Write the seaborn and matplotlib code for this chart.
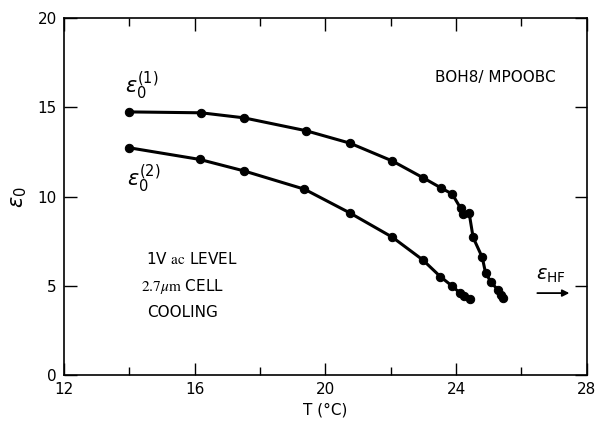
import matplotlib

matplotlib.use("Agg")
import matplotlib.pyplot as plt
import pandas as pd
import seaborn as sns
from matplotlib.ticker import MultipleLocator

# eps0(1) branch
temp_1 = [14.0, 16.2, 17.5, 19.4, 20.75, 22.05, 23.0, 23.53, 23.88, 24.14,
          24.22, 24.4, 24.52, 24.8, 24.9, 25.07, 25.28, 25.36, 25.42]
eps_1 = [14.75, 14.7, 14.42, 13.7, 13.0, 12.0, 11.05, 10.5, 10.15, 9.35,
         9.03, 9.07, 7.72, 6.6, 5.74, 5.2, 4.78, 4.5, 4.35]

# eps0(2) branch
temp_2 = [14.0, 16.15, 17.5, 19.36, 20.74, 22.05, 22.98, 23.52, 23.86, 24.11,
          24.24, 24.42]
eps_2 = [12.74, 12.09, 11.45, 10.42, 9.1, 7.73, 6.46, 5.52, 5.02, 4.62,
         4.45, 4.27]

df = pd.concat(
    [
        pd.DataFrame({"T": temp_1, "eps": eps_1, "branch": "1"}),
        pd.DataFrame({"T": temp_2, "eps": eps_2, "branch": "2"}),
    ],
    ignore_index=True,
)

sns.set_theme(style="ticks")
plt.rcParams["font.family"] = ["DejaVu Sans"]
plt.rcParams["mathtext.fontset"] = "dejavusans"
plt.rcParams["text.color"] = "black"
plt.rcParams["axes.labelcolor"] = "black"
plt.rcParams["xtick.color"] = "black"
plt.rcParams["ytick.color"] = "black"

fig = plt.figure(figsize=(5.97, 4.23), dpi=100)
ax = fig.add_axes([0.107, 0.113, 0.876, 0.844])

sns.lineplot(
    data=df, x="T", y="eps", units="branch", estimator=None, sort=False,
    color="black", linewidth=2.2, marker="o", markersize=6,
    markeredgecolor="black", ax=ax,
)

ax.set_xlim(12, 28)
ax.set_ylim(0, 20)
ax.xaxis.set_major_locator(MultipleLocator(4))
ax.xaxis.set_minor_locator(MultipleLocator(2))
ax.yaxis.set_major_locator(MultipleLocator(5))
ax.tick_params(which="both", direction="in", top=True, right=True,
               labelsize=11, width=1.0, pad=5)
ax.tick_params(which="major", length=9)
ax.tick_params(which="minor", length=6)
for s in ax.spines.values():
    s.set_linewidth(1.2)
    s.set_color("black")

ax.set_xlabel("T (°C)", fontsize=11, labelpad=4)
ax.set_ylabel(r"$\epsilon_0$", fontsize=15, labelpad=6)

ax.text(14.4, 16.2, r"$\epsilon_0^{(1)}$", fontsize=15, ha="center", va="center")
ax.text(14.45, 11.0, r"$\epsilon_0^{(2)}$", fontsize=15, ha="center", va="center")
ax.text(25.2, 16.7, "BOH8/ MPOOBC", fontsize=11, ha="center", va="center")

ax.text(14.5, 6.5, r"1V $\mathrm{ac}$ LEVEL", fontsize=11, ha="left",
        va="center", math_fontfamily="stix")
ax.text(14.35, 4.95, r"$2.7\mu\mathrm{m}$ CELL", fontsize=11, ha="left",
        va="center", math_fontfamily="stix")
ax.text(14.55, 3.5, "COOLING", fontsize=11, ha="left", va="center")

ax.text(26.45, 5.6, r"$\epsilon_{\mathrm{HF}}$", fontsize=14, ha="left", va="center")
ax.annotate("", xy=(27.55, 4.6), xytext=(26.4, 4.6),
            arrowprops=dict(arrowstyle="-|>", color="black", lw=1.3,
                            mutation_scale=10))

fig.savefig("out.png", dpi=100)
